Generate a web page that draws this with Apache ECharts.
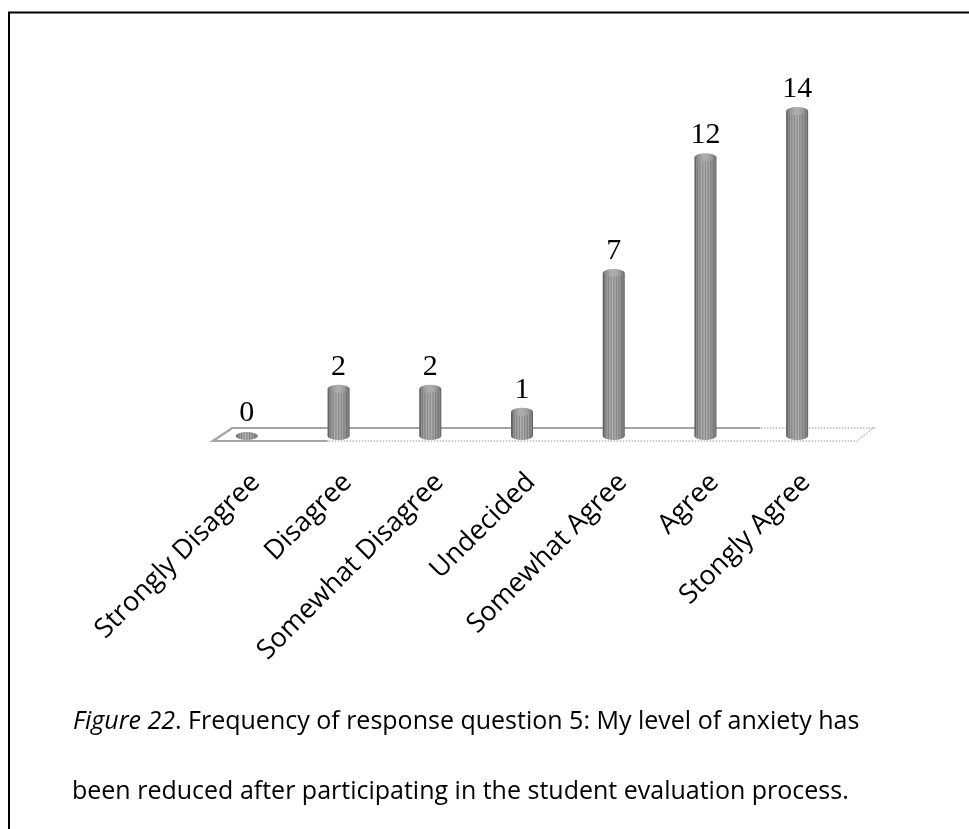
<!DOCTYPE html>
<html><head><meta charset="utf-8">
<script src="https://cdn.jsdelivr.net/npm/echarts@6.0.0/dist/echarts.min.js"></script>
<style>html,body{margin:0;padding:0;background:#fff}#c{width:969px;height:829px}</style>
</head><body><div id="c"></div>
<script>
// ---- data ----
const categories = ['Strongly Disagree', 'Disagree', 'Somewhat Disagree', 'Undecided', 'Somewhat Agree', 'Agree', 'Stongly Agree'];
const responseCounts = [0, 2, 2, 1, 7, 12, 14];
const yAxisRange = [0, 14];
const captionItalic = 'Figure 22';
const captionLine1 = '. Frequency of response question 5: My level of anxiety has';
const captionLine2 = 'been reduced after participating in the student evaluation process.';

// ---- styling ----
const stripeStops = [
  [0.00,'#5a5a5a'],[0.07,'#6a6a6a'],[0.10,'#959595'],[0.15,'#777777'],[0.20,'#a6a6a6'],
  [0.26,'#808080'],[0.32,'#b2b2b2'],[0.38,'#858585'],[0.44,'#b8b8b8'],[0.50,'#878787'],
  [0.56,'#b4b4b4'],[0.62,'#828282'],[0.68,'#ababab'],[0.74,'#7b7b7b'],[0.80,'#9e9e9e'],
  [0.86,'#727272'],[0.92,'#8a8a8a'],[1.00,'#535353']
].map(s => ({offset: s[0], color: s[1]}));
const topStops = [
  [0,'#6c6c6c'],[0.2,'#979797'],[0.4,'#adadad'],[0.6,'#aaaaaa'],[0.8,'#959595'],[1,'#666666']
].map(s => ({offset: s[0], color: s[1]}));

const chart = echarts.init(document.getElementById('c'), null, {renderer: 'canvas'});

function renderFloor(params, api) {
  const p0 = api.coord([0, 0]);
  const pN = api.coord([categories.length - 1, 0]);
  const band = api.size([1, 0])[0];
  const yb = p0[1] - 7, yf = p0[1] + 6;
  const fl = [p0[0] - 0.37 * band, yf], bl = [p0[0] - 0.16 * band, yb];
  const br = [pN[0] + 0.83 * band, yb], fr = [pN[0] + 0.65 * band, yf];
  const frontDarkEnd = p0[0] + 0.88 * band;
  const backDarkEnd = p0[0] + 5.6 * band;
  return {
    type: 'group',
    children: [
      {type: 'polygon', shape: {points: [fl, bl, br, fr]},
       style: {fill: '#ffffff', stroke: '#cacaca', lineWidth: 2, lineDash: [1.5, 1.5]}},
      {type: 'polyline', shape: {points: [[backDarkEnd, yb], bl, fl, [frontDarkEnd, yf]]},
       style: {fill: null, stroke: '#a4a4a4', lineWidth: 2.2}}
    ]
  };
}

function renderCylinder(params, api) {
  const idx = api.value(0);
  const val = api.value(1);
  const top = api.coord([idx, val]);
  const base = api.coord([idx, 0]);
  const w = 22, rx = w / 2, ry = 4;
  const cx = top[0];
  const grad = new echarts.graphic.LinearGradient(0, 0, 1, 0, stripeStops);
  const gradTop = new echarts.graphic.LinearGradient(0, 0, 1, 0, topStops);
  const children = [];
  children.push({type: 'circle', shape: {cx: 0, cy: 0, r: rx}, x: cx, y: base[1] + 1, scaleY: ry / rx,
    style: {fill: grad}});
  if (val > 0) {
    children.push({type: 'rect', shape: {x: cx - rx, y: top[1], width: w, height: base[1] + 1 - top[1]},
      style: {fill: grad}});
    children.push({type: 'circle', shape: {cx: 0, cy: 0, r: rx}, x: cx, y: top[1], scaleY: ry / rx,
      style: {fill: gradTop}});
  }
  children.push({type: 'text', x: cx, y: top[1] - 7,
    style: {text: String(val), font: '30px "Liberation Serif", "Times New Roman", serif',
      fill: '#000', align: 'center', verticalAlign: 'bottom', textAlign: 'center', textVerticalAlign: 'bottom'}});
  return {type: 'group', children};
}

const option = {
  backgroundColor: '#ffffff',
  animation: false,
  grid: [
    {left: 201, right: 126, top: 111, bottom: 394},
    {left: 210, right: 117, top: 111, bottom: 394}
  ],
  xAxis: [
    {type: 'category', gridIndex: 0, data: categories, axisLine: {show: false}, axisTick: {show: false},
     axisLabel: {show: false}, splitLine: {show: false}},
    {type: 'category', gridIndex: 1, data: categories, axisLine: {show: false}, axisTick: {show: false},
     splitLine: {show: false},
     axisLabel: {interval: 0, rotate: 45, margin: 43, color: '#000',
       fontFamily: '"Open Sans", sans-serif', fontSize: 27, hideOverlap: false}}
  ],
  yAxis: [
    {type: 'value', gridIndex: 0, min: yAxisRange[0], max: yAxisRange[1], show: false},
    {type: 'value', gridIndex: 1, min: yAxisRange[0], max: yAxisRange[1], show: false}
  ],
  series: [
    {type: 'custom', xAxisIndex: 0, yAxisIndex: 0, clip: false, z: 1,
     data: [[0, 0]], renderItem: renderFloor, silent: true},
    {type: 'custom', xAxisIndex: 0, yAxisIndex: 0, clip: false, z: 2,
     encode: {x: 0, y: 1},
     data: responseCounts.map((v, i) => [i, v]), renderItem: renderCylinder}
  ],
  graphic: [
    {type: 'polyline', shape: {points: [[9, 829], [9, 12.5], [969, 12.5]]},
     style: {fill: null, stroke: '#000', lineWidth: 2}, z: 10},
    {type: 'text', left: 73, top: 709, z: 10,
     style: {text: '{i|' + captionItalic + '}{n|' + captionLine1 + '}',
       rich: {i: {font: 'italic 25px "Open Sans", sans-serif', fill: '#000'},
              n: {font: '25px "Open Sans", sans-serif', fill: '#000'}}}},
    {type: 'text', left: 72, top: 779, z: 10,
     style: {text: captionLine2, font: '25px "Open Sans", sans-serif', fill: '#000'}}
  ]
};
chart.setOption(option);
</script>
</body></html>
